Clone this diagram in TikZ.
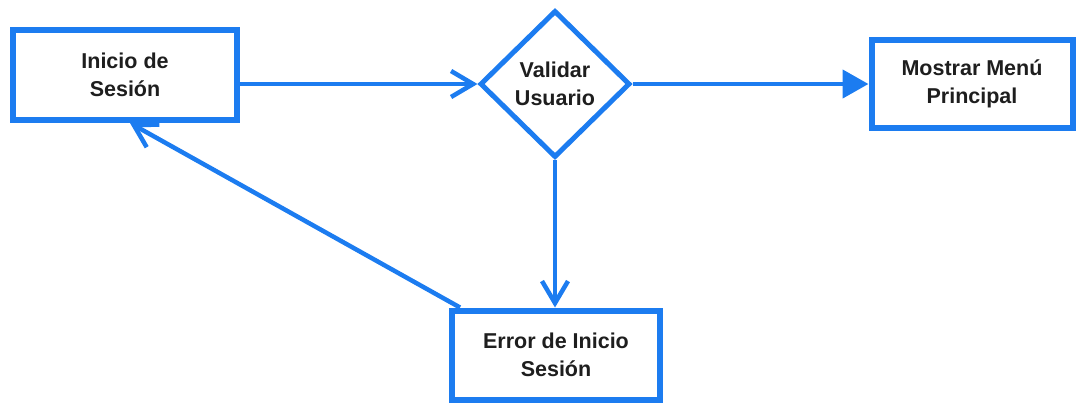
\documentclass[tikz,border=0pt]{standalone}
\usepackage{fontspec}
\setmainfont{Liberation Sans}
\usetikzlibrary{shapes.geometric,arrows.meta}
\definecolor{flowblue}{RGB}{28,124,240}
\definecolor{txt}{RGB}{30,30,30}
\tikzset{
  box/.style={draw=flowblue, line width=6pt, fill=white, align=center, text=txt,
    font=\bfseries\fontsize{21.5}{28}\selectfont, inner sep=0pt},
  dec/.style={draw=flowblue, line width=5pt, fill=white, align=center, text=txt,
    font=\bfseries\fontsize{21.5}{28}\selectfont, shape=diamond, inner sep=0pt,
    minimum width=150pt, minimum height=147pt},
  conn/.style={draw=flowblue, line width=4.5pt},
  openv/.style={conn, -{Straight Barb[length=22pt,width=26pt]}},
  filled/.style={conn, -{Triangle[length=26pt,width=28pt]}}
}
\begin{document}
\begin{tikzpicture}[x=1pt,y=-1pt]
\useasboundingbox (0,0) rectangle (1077,405);
\node[box, minimum width=224pt, minimum height=90pt] (ini) at (125,75) {Inicio de\\Sesión};
\node[dec] (dia) at (555,84) {Validar\\Usuario};
\node[box, minimum width=201pt, minimum height=88pt] (men) at (972,84) {Mostrar Menú\\Principal};
\node[box, minimum width=208pt, minimum height=89pt] (err) at (556,355) {Error de Inicio\\Sesión};
\draw[openv] (ini.east |- dia.west) -- (dia.west);
\draw[filled] (dia.east) -- (men.west |- dia.east);
\draw[openv] (dia.south) -- (err.north -| dia.south);
\draw[openv] ([xshift=11pt]err.north west) -- ([xshift=120pt]ini.south west);
\end{tikzpicture}
\end{document}
